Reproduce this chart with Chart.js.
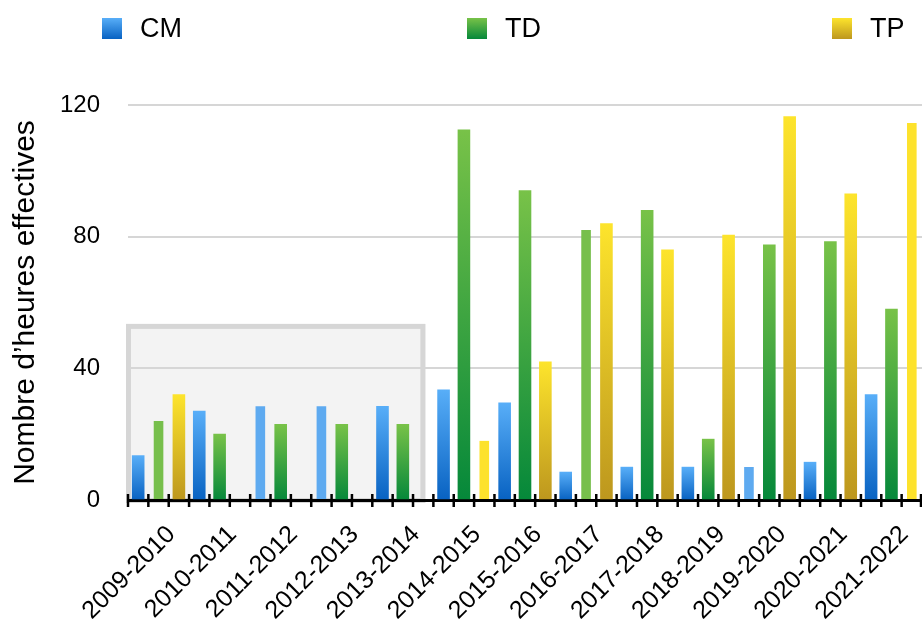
<!DOCTYPE html>
<html>
<head>
<meta charset="utf-8">
<title>Heures effectives</title>
<script src="https://cdn.jsdelivr.net/npm/chart.js@4"></script>
<style>
  html, body { margin: 0; padding: 0; background: #fff; }
  #wrap { position: relative; width: 922px; height: 623px; }
  #legend {
    position: absolute; left: 102px; top: 18px;
    display: flex;
    font-family: "Liberation Sans", Arial, Helvetica, sans-serif;
    font-size: 27px; color: #000;
  }
  #legend .item { display: flex; align-items: center; width: 365px; height: 21px; line-height: 21px; }
  #legend .swatch { width: 20px; height: 21px; margin-right: 18px; }
</style>
</head>
<body>
<div id="wrap">
  <canvas id="chart" width="922" height="623"></canvas>
  <div id="legend"></div>
</div>
<script>
// Heures par année universitaire
const seasons = ['2009-2010', '2010-2011', '2011-2012', '2012-2013', '2013-2014', '2014-2015',
  '2015-2016', '2016-2017', '2017-2018', '2018-2019', '2019-2020', '2020-2021', '2021-2022'];
const cmHours = [13.5, 27, 28.5, 28.5, 28.5, 33.5, 29.5, 8.5, 10, 10, 10, 11.5, 32];
const tdHours = [24, 20, 23, 23, 23, 112.5, 94, 82, 88, 18.5, 77.5, 78.5, 58];
const tpHours = [32, null, null, null, null, 18, 42, 84, 76, 80.5, 116.5, 93, 114.5];
const yTicks = [0, 40, 80, 120];

// zone grisée autour des premières années (en heures)
const shadedUntil = 4;
const shadedTop = 53.5;

// couleurs : haut / bas du dégradé, teinte unie pour certaines barres
const seriesStyle = [
  { top: '#58aef8', bottom: '#0862c2', flat: '#5eaaf0', flatBars: [2, 3, 10] },
  { top: '#78c248', bottom: '#05883a', flat: '#77bf4c', flatBars: [0, 7] },
  { top: '#fde42c', bottom: '#bd971e', flat: '#fde22c', flatBars: [5, 12] }
];

Chart.defaults.font.family = '"Liberation Sans", Arial, Helvetica, sans-serif';
Chart.defaults.color = '#000';

function barFill(style) {
  return (ctx) => {
    if (style.flatBars.includes(ctx.dataIndex)) return style.flat;
    const chart = ctx.chart;
    const v = ctx.parsed ? ctx.parsed.y : ctx.raw;
    if (!chart.chartArea || v == null) return style.bottom;
    const y = chart.scales.y;
    const g = chart.ctx.createLinearGradient(0, y.getPixelForValue(v), 0, y.getPixelForValue(0));
    g.addColorStop(0, style.top);
    g.addColorStop(1, style.bottom);
    return g;
  };
}

function makeDataset(label, data, style) {
  const flat = (ctx) => style.flatBars.includes(ctx.dataIndex);
  return {
    label: label,
    data: data,
    backgroundColor: barFill(style),
    // barres unies un peu plus étroites : bordure latérale transparente
    borderColor: 'rgba(0,0,0,0)',
    borderWidth: (ctx) => flat(ctx) ? { left: 1.5, right: 1.5, top: 0, bottom: 0 } : 0,
    borderSkipped: 'start',
    inflateAmount: 0.3,
    barPercentage: 0.59,
    categoryPercentage: 1.0
  };
}

// cadre gris derrière les cinq premières années
const shadedBox = {
  id: 'shadedBox',
  beforeDraw(chart) {
    const { ctx, scales: { x, y } } = chart;
    const band = x.getPixelForValue(1) - x.getPixelForValue(0);
    const left = x.getPixelForValue(0) - band / 2 - 2;
    const right = x.getPixelForValue(shadedUntil) + band / 2 - 8;
    const top = y.getPixelForValue(shadedTop);
    const bottom = y.getPixelForValue(0) + 3;
    ctx.save();
    ctx.fillStyle = '#f3f3f3';
    ctx.fillRect(left, top, right - left, bottom - top);
    ctx.strokeStyle = '#d6d6d6';
    ctx.lineWidth = 5;
    ctx.strokeRect(left + 2.5, top + 2.5, right - left - 5, bottom - top - 5);
    ctx.restore();
  }
};

// petites graduations à chaque emplacement de barre
const slotTicks = {
  id: 'slotTicks',
  afterDatasetsDraw(chart) {
    const { ctx, scales: { x, y } } = chart;
    const band = x.getPixelForValue(1) - x.getPixelForValue(0);
    const slots = chart.data.datasets.length;
    const y0 = y.getPixelForValue(0);
    ctx.save();
    ctx.strokeStyle = '#000';
    ctx.lineWidth = 2.5;
    ctx.beginPath();
    for (let i = 0; i < chart.data.labels.length; i++) {
      const start = x.getPixelForValue(i) - band / 2;
      for (let j = 0; j < slots; j++) {
        const px = start + j * band / slots;
        ctx.moveTo(px, y0 - 6);
        ctx.lineTo(px, y0 + 7);
      }
    }
    ctx.moveTo(x.right - 1, y0 - 6);
    ctx.lineTo(x.right - 1, y0 + 7);
    ctx.stroke();
    ctx.restore();
  }
};

const chart = new Chart(document.getElementById('chart'), {
  type: 'bar',
  data: {
    labels: seasons,
    datasets: [
      makeDataset('CM', cmHours, seriesStyle[0]),
      makeDataset('TD', tdHours, seriesStyle[1]),
      makeDataset('TP', tpHours, seriesStyle[2])
    ]
  },
  options: {
    responsive: false,
    animation: false,
    devicePixelRatio: 1,
    layout: { padding: { top: 105, right: 0, bottom: 0, left: 0 } },
    plugins: {
      legend: { display: false },
      tooltip: { enabled: false }
    },
    scales: {
      x: {
        // graduations invisibles : elles ne servent qu'à décaler les libellés
        grid: { drawOnChartArea: false, drawTicks: true, tickLength: 16, tickColor: 'rgba(0,0,0,0)' },
        border: { display: true, color: '#000', width: 3 },
        ticks: {
          autoSkip: false,
          minRotation: 45,
          maxRotation: 45,
          labelOffset: 13,
          padding: 4,
          font: { size: 25 }
        },
        afterFit(scale) { scale.height = 123; }
      },
      y: {
        min: 0,
        max: 120,
        afterBuildTicks(scale) { scale.ticks = yTicks.map(v => ({ value: v })); },
        grid: { color: '#d6d6d6', lineWidth: 2, drawTicks: false },
        border: { display: false },
        ticks: { font: { size: 24 }, padding: 28 },
        title: {
          display: true,
          text: 'Nombre d’heures effectives',
          font: { size: 30 },
          padding: { top: 8, bottom: 0 }
        },
        afterFit(scale) { scale.width = 128; }
      }
    }
  },
  plugins: [shadedBox, slotTicks]
});

// légende HTML construite à partir des séries
const legendEl = document.getElementById('legend');
chart.data.datasets.forEach((ds, i) => {
  const st = seriesStyle[i];
  const item = document.createElement('div');
  item.className = 'item';
  const sw = document.createElement('span');
  sw.className = 'swatch';
  sw.style.background = 'linear-gradient(' + st.top + ', ' + st.bottom + ')';
  const txt = document.createElement('span');
  txt.textContent = ds.label;
  item.appendChild(sw);
  item.appendChild(txt);
  legendEl.appendChild(item);
});
</script>
</body>
</html>
